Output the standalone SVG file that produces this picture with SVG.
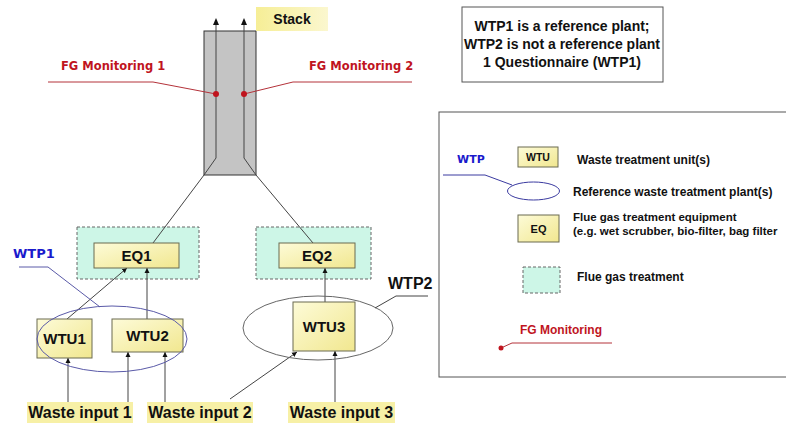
<svg xmlns="http://www.w3.org/2000/svg" width="786" height="425" viewBox="0 0 786 425">
<defs>
<linearGradient id="yg" x1="0" y1="0" x2="1" y2="1">
<stop offset="0" stop-color="#fdfbd8"/>
<stop offset="1" stop-color="#f1e78f"/>
</linearGradient>
<linearGradient id="yl" x1="0" y1="0" x2="1" y2="0">
<stop offset="0" stop-color="#f6ee96"/>
<stop offset="1" stop-color="#fbf7cf"/>
</linearGradient>
<marker id="ah" viewBox="0 0 10 10" refX="10" refY="5" markerWidth="5" markerHeight="6" orient="auto" markerUnits="userSpaceOnUse">
<path d="M0,0 L10,5 L0,10 z" fill="#111"/>
</marker>
</defs>
<style>
text{font-family:"Liberation Sans",Arial,sans-serif;font-weight:bold;fill:#111}
.box{fill:url(#yg);stroke:#6b6b50;stroke-width:1}
.fgt{fill:#cdf6e7;stroke:#666;stroke-width:1;stroke-dasharray:3,2}
.con{fill:none;stroke:#444;stroke-width:1}
.arr{fill:none;stroke:#444;stroke-width:1;marker-end:url(#ah)}
.red{fill:none;stroke:#b4323a;stroke-width:1}
.fgl{font-family:"DejaVu Sans",Verdana,sans-serif;fill:#c0141e;font-size:11.5px}
.lbl{fill:#f7f0a6}
.lt{font-size:12px}
.lt2{font-size:11.5px}
</style>
<rect width="786" height="425" fill="#ffffff"/>

<g id="stack">
<rect x="204" y="31" width="52" height="144" fill="#c4c4c4" stroke="#333" stroke-width="1"/>
<rect x="256" y="7" width="72" height="24" fill="url(#yl)"/>
<text x="292" y="24" font-size="14" text-anchor="middle">Stack</text>
</g>

<g id="note">
<rect x="462" y="7" width="201" height="75" fill="#fff" stroke="#555" stroke-width="1"/>
<text x="562" y="31" font-size="14" text-anchor="middle">WTP1 is a reference plant;</text>
<text x="562" y="49" font-size="14" text-anchor="middle">WTP2 is not a reference plant</text>
<text x="562" y="67" font-size="14" text-anchor="middle">1 Questionnaire (WTP1)</text>
</g>

<g id="fgt1"><rect class="fgt" x="77" y="227" width="122" height="52"/></g>
<g id="fgt2"><rect class="fgt" x="256" y="227" width="115" height="52"/></g>

<g id="connectors">
<polyline class="con" points="204,175 216,158 216,24"/>
<polyline class="con" points="256,175 244,158 244,24"/>
<path d="M216,18 L213,25 L219,25 z" fill="#111"/>
<path d="M244,18 L241,25 L247,25 z" fill="#111"/>
<line class="con" x1="204" y1="175" x2="153" y2="243"/>
<line class="con" x1="256" y1="175" x2="313" y2="243"/>
<line class="arr" x1="67" y1="319" x2="127" y2="268"/>
<line class="arr" x1="147" y1="319" x2="147" y2="268"/>
<line class="arr" x1="325" y1="302" x2="325" y2="268"/>
<line class="arr" x1="68" y1="402" x2="68" y2="358"/>
<line class="arr" x1="128" y1="402" x2="128" y2="352"/>
<line class="arr" x1="165" y1="402" x2="165" y2="352"/>
<line class="arr" x1="230" y1="399" x2="297" y2="352"/>
<line class="arr" x1="335" y1="402" x2="335" y2="351"/>
</g>

<g id="fgm1">
<polyline class="red" points="48,82 153,82 216,94"/>
<circle cx="216" cy="94" r="3" fill="#c0141e"/>
<text class="fgl" x="61" y="70">FG Monitoring  1</text>
</g>
<g id="fgm2">
<polyline class="red" points="412,82 293,82 244,94"/>
<circle cx="244" cy="94" r="3" fill="#c0141e"/>
<text class="fgl" x="309" y="70">FG Monitoring  2</text>
</g>

<g id="eq1"><rect class="box" x="94" y="243" width="85" height="25"/><text x="136.5" y="261" font-size="15" text-anchor="middle">EQ1</text></g>
<g id="eq2"><rect class="box" x="279" y="243" width="76" height="25"/><text x="317" y="261" font-size="15" text-anchor="middle">EQ2</text></g>

<g id="wtp2">
<ellipse cx="318" cy="328" rx="75" ry="32" fill="none" stroke="#666" stroke-width="1"/>
<polyline class="con" points="428,296 396,296 375,308"/>
<text x="388" y="289" font-size="16">WTP2</text>
</g>

<g id="wtu1"><rect class="box" x="37" y="319" width="55" height="39"/><text x="64.5" y="344" font-size="15" text-anchor="middle">WTU1</text></g>
<g id="wtu2"><rect class="box" x="112" y="319" width="71" height="33"/><text x="147.5" y="341" font-size="15" text-anchor="middle">WTU2</text></g>
<g id="wtu3"><rect class="box" x="293" y="302" width="62" height="49"/><text x="324" y="332" font-size="15" text-anchor="middle">WTU3</text></g>

<g id="wtp1">
<ellipse cx="112" cy="339" rx="75" ry="33" fill="none" stroke="#5a5aa8" stroke-width="1"/>
<polyline points="19,267 48,267 100,307" fill="none" stroke="#5a5aa8" stroke-width="1"/>
<text x="13" y="258" font-size="13" style="font-family:'DejaVu Sans',Verdana,sans-serif;fill:#1a1acc">WTP1</text>
</g>

<g id="win1"><rect class="lbl" x="27" y="402" width="106" height="21"/><text x="80" y="418" font-size="16" text-anchor="middle">Waste input 1</text></g>
<g id="win2"><rect class="lbl" x="147" y="402" width="106" height="21"/><text x="200" y="418" font-size="16" text-anchor="middle">Waste input 2</text></g>
<g id="win3"><rect class="lbl" x="288" y="402" width="107" height="21"/><text x="341.5" y="418" font-size="16" text-anchor="middle">Waste input 3</text></g>

<g id="legend">
<rect x="439" y="112" width="360" height="265" fill="#fff" stroke="#555" stroke-width="1"/>
<rect class="box" x="518" y="147" width="40" height="20"/>
<text x="538" y="161" font-size="10.5" text-anchor="middle">WTU</text>
<text class="lt" x="577" y="164">Waste treatment unit(s)</text>
<polyline points="443,175 485,175 512,185" fill="none" stroke="#3a3aa0" stroke-width="1"/>
<text x="457" y="163" font-size="11" style="font-family:'DejaVu Sans',Verdana,sans-serif;fill:#1a1acc">WTP</text>
<ellipse cx="533.5" cy="191" rx="26" ry="9" fill="none" stroke="#3a3aa0" stroke-width="1"/>
<text class="lt" x="573" y="196">Reference waste treatment plant(s)</text>
<rect class="box" x="518" y="215" width="41" height="27"/>
<text x="538.5" y="233" font-size="11" text-anchor="middle">EQ</text>
<text class="lt2" x="573" y="221">Flue gas treatment equipment</text>
<text class="lt2" x="573" y="234.5">(e.g. wet scrubber, bio-filter,  bag filter</text>
<rect class="fgt" x="523" y="267" width="37" height="26"/>
<text class="lt" x="577" y="281">Flue gas treatment</text>
<polyline class="red" points="501,348 512,343 612,343"/>
<circle cx="501" cy="348" r="2.5" fill="#c0141e"/>
<text class="lt" x="520" y="334" style="fill:#c0141e">FG Monitoring</text>
</g>
</svg>
